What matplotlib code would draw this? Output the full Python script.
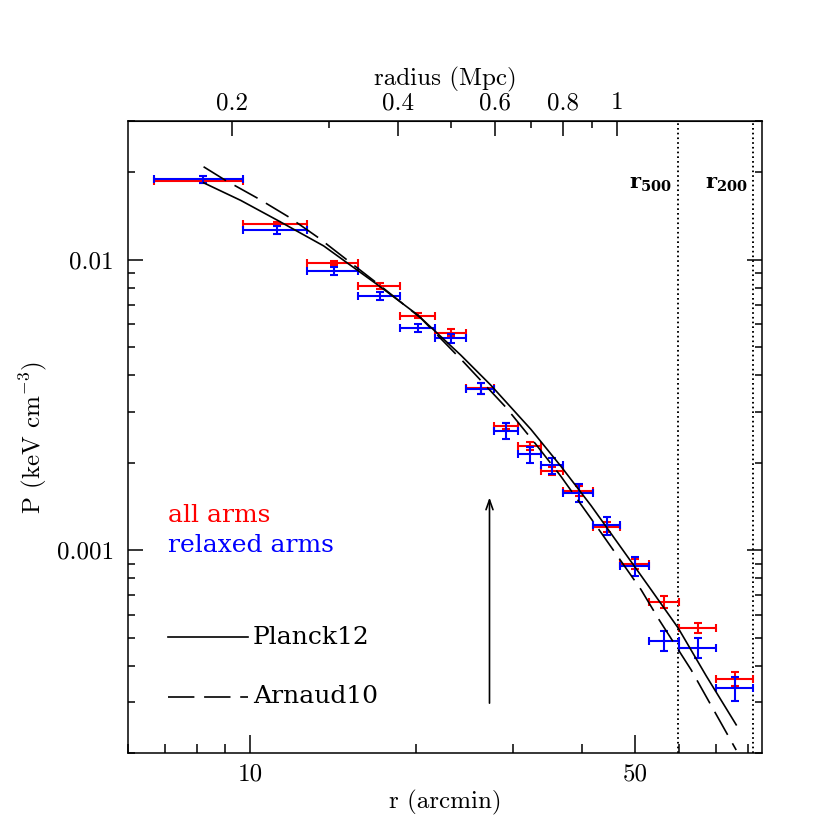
import matplotlib
matplotlib.use('Agg')
import matplotlib.pyplot as plt
from matplotlib.ticker import FixedLocator, FixedFormatter, NullFormatter

plt.rcParams['mathtext.fontset'] = 'cm'
plt.rcParams['axes.formatter.use_mathtext'] = True
plt.rcParams['lines.scale_dashes'] = False

# ---- data ----
r_arcmin = [8.2, 11.2, 14.2, 17.2, 20.2, 23.2, 26.2, 29.2, 32.2, 35.35,
            39.5, 44.5, 50.0, 56.5, 65.0, 76.0]
r_halfwidth = [1.5, 1.5, 1.5, 1.5, 1.5, 1.5, 1.5, 1.5, 1.5, 1.65,
               2.5, 2.5, 3.0, 3.5, 5.0, 6.0]

p_all = [0.0187, 0.01327, 0.00977, 0.00812, 0.00641, 0.00561, 0.00361, 0.00267,
         0.00228, 0.00187, 0.00160, 0.00120, 0.000898, 0.000664, 0.000540, 0.000362]
p_all_err = [0.0003, 0.00018, 0.000155, 0.00019, 0.00013, 0.000146, 0.000158, 0.000064,
             0.000073, 0.00006, 0.00006, 0.000048, 0.000034, 0.000032, 0.000021, 0.00002]

p_relaxed = [0.0189, 0.01269, 0.009165, 0.00751, 0.00583, 0.00536, 0.00360, 0.00257,
             0.00214, 0.00196, 0.00158, 0.00122, 0.000881, 0.000489, 0.000462, 0.000335]
p_relaxed_err = [0.00057, 0.0004, 0.00029, 0.00024, 0.000185, 0.000183, 0.000157, 0.000163,
                 0.000136, 0.000125, 0.000109, 0.000087, 0.000066, 0.00004, 0.000037, 0.000032]

planck_r = [8.23, 9.61, 11.22, 13.6, 17.26, 20.16, 24.13, 27.36, 32.34, 36.68,
            41.58, 47.15, 53.46, 59.84, 67.3, 76.3]
planck_p = [0.01839, 0.0160, 0.01365, 0.01115, 0.00805, 0.006446, 0.004692, 0.003698,
            0.002608, 0.001944, 0.001426, 0.001022, 0.000732, 0.000541, 0.000370, 0.000251]

arnaud_r = [8.23, 9.02, 10.36, 11.74, 13.32, 15.03, 17.26, 20.41, 24.43, 29.13,
            33.03, 36.68, 43.36, 51.26, 55.27, 63.2, 76.3]
arnaud_p = [0.02088, 0.01875, 0.0162, 0.01404, 0.01188, 0.009945, 0.008115, 0.006295,
            0.004438, 0.003105, 0.002315, 0.001795, 0.001151, 0.000732, 0.000577,
            0.000388, 0.0002055]

r500 = 59.7
r200 = 81.9
arrow_r = 27.2
arrow_from = 0.000298
arrow_to = 0.00152
mpc_per_arcmin = 0.0216

x_ticks = [10, 50]
x_ticklabels = ['10', '50']
x_minor = [6, 7, 8, 9, 20, 30, 40, 60, 70, 80]
y_ticks = [0.001, 0.01]
y_ticklabels = ['0.001', '0.01']
y_minor = [0.0002, 0.0003, 0.0004, 0.0005, 0.0006, 0.0007, 0.0008, 0.0009,
           0.002, 0.003, 0.004, 0.005, 0.006, 0.007, 0.008, 0.009, 0.02, 0.03]
top_ticks = [0.2, 0.4, 0.6, 0.8, 1.0]
top_ticklabels = ['0.2', '0.4', '0.6', '0.8', '1']
top_minor = [0.3, 0.5, 0.7, 0.9]

# ---- figure ----
fig = plt.figure(figsize=(8.3, 8.3), dpi=100)
ax = fig.add_axes([0.1542, 0.0922, 0.7639, 0.762])
ax.set_xscale('log')
ax.set_yscale('log')
ax.set_xlim(6, 85)
ax.set_ylim(0.0002, 0.03)

fs = 18
tickfont = 'cmr10'

ekw = dict(fmt='none', elinewidth=1.5, capsize=3.0, capthick=1.5)
ax.errorbar(r_arcmin, p_all, xerr=r_halfwidth, yerr=p_all_err, ecolor='#ff0000', zorder=3, **ekw)
ax.errorbar(r_arcmin, p_relaxed, xerr=r_halfwidth, yerr=p_relaxed_err, ecolor='#0000ff', zorder=4, **ekw)

ax.plot(planck_r, planck_p, color='black', lw=1.2, zorder=5)
ax.plot(arnaud_r, arnaud_p, color='black', lw=1.2, dashes=(19, 7), zorder=5)

for rv in (r500, r200):
    ax.axvline(rv, color='black', lw=1.4, ls=(0, (1.2, 2.2)), zorder=2)

ax.text(r500 / 1.022, 0.0182, r'$\mathbf{r}_{\mathbf{500}}$', ha='right', va='center',
        fontsize=15, math_fontfamily='dejavuserif')
ax.text(r200 / 1.022, 0.0182, r'$\mathbf{r}_{\mathbf{200}}$', ha='right', va='center',
        fontsize=15, math_fontfamily='dejavuserif')

ax.annotate('', xy=(arrow_r, arrow_to), xytext=(arrow_r, arrow_from),
            arrowprops=dict(arrowstyle='->,head_length=0.7,head_width=0.25', color='black', lw=1.2,
                            shrinkA=0, shrinkB=0), zorder=5)

txtfont = 'DejaVu Serif'
ax.text(0.063, 0.3755, 'all arms', color='#ff0000', transform=ax.transAxes,
        fontsize=fs, family=txtfont, va='center')
ax.text(0.063, 0.3296, 'relaxed arms', color='#0000ff', transform=ax.transAxes,
        fontsize=fs, family=txtfont, va='center')
ax.plot([0.063, 0.189], [0.184, 0.184], color='black', lw=1.2, transform=ax.transAxes)
ax.plot([0.063, 0.189], [0.0894, 0.0894], color='black', lw=1.2, dashes=(19, 7),
        transform=ax.transAxes)
ax.text(0.197, 0.184, 'Planck12', transform=ax.transAxes, fontsize=fs, family=txtfont, va='center')
ax.text(0.197, 0.0894, 'Arnaud10', transform=ax.transAxes, fontsize=fs, family=txtfont, va='center')

# ticks
ax.xaxis.set_major_locator(FixedLocator(x_ticks))
ax.xaxis.set_major_formatter(FixedFormatter(x_ticklabels))
ax.xaxis.set_minor_locator(FixedLocator(x_minor))
ax.xaxis.set_minor_formatter(NullFormatter())
ax.yaxis.set_major_locator(FixedLocator(y_ticks))
ax.yaxis.set_major_formatter(FixedFormatter(y_ticklabels))
ax.yaxis.set_minor_locator(FixedLocator(y_minor))
ax.yaxis.set_minor_formatter(NullFormatter())

ax.tick_params(axis='x', which='major', direction='in', length=13, width=1.1, pad=7, labelsize=fs)
ax.tick_params(axis='x', which='minor', direction='in', length=6.5, width=1.1)
ax.tick_params(axis='y', which='major', direction='in', length=11, width=1.1, pad=10,
               labelsize=fs, right=True)
ax.tick_params(axis='y', which='minor', direction='in', length=5.2, width=1.1, right=True)
for lab in ax.get_xticklabels() + ax.get_yticklabels():
    lab.set_family(tickfont)

for sp in ax.spines.values():
    sp.set_linewidth(1.1)

ax.set_xlabel('r (arcmin)', fontsize=fs, family=tickfont, labelpad=3)
ax.set_ylabel(r'P (keV cm$^{-3}$)', fontsize=fs, family=tickfont, labelpad=6)

sec = ax.secondary_xaxis('top', functions=(lambda a: a * mpc_per_arcmin,
                                           lambda m: m / mpc_per_arcmin))
sec.set_xscale('log')
sec.xaxis.set_major_locator(FixedLocator(top_ticks))
sec.xaxis.set_major_formatter(FixedFormatter(top_ticklabels))
sec.xaxis.set_minor_locator(FixedLocator(top_minor))
sec.xaxis.set_minor_formatter(NullFormatter())
sec.tick_params(which='major', direction='in', length=11, width=1.1, pad=5, labelsize=fs)
sec.tick_params(which='minor', direction='in', length=4.7, width=1.1)
for lab in sec.get_xticklabels():
    lab.set_family(tickfont)
sec.set_xlabel('radius (Mpc)', fontsize=fs, family=tickfont, labelpad=5)

fig.savefig('out.png', dpi=100)
